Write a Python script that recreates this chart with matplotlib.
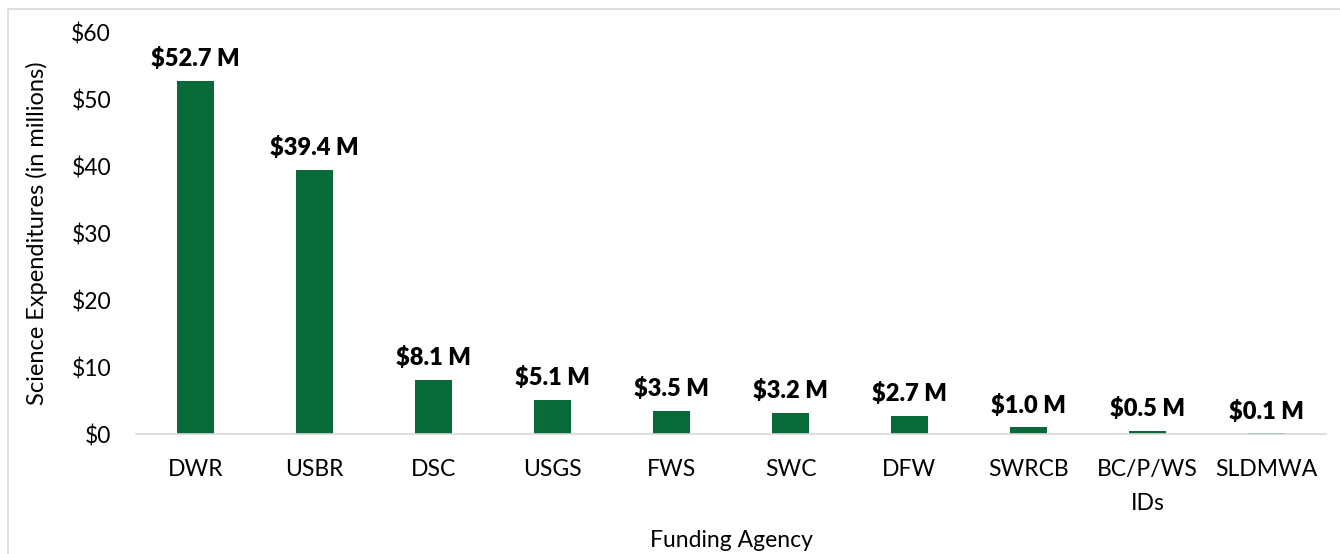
import matplotlib.pyplot as plt
from matplotlib.patches import Rectangle

agencies = ['DWR', 'USBR', 'DSC', 'USGS', 'FWS', 'SWC', 'DFW', 'SWRCB', 'BC/P/WS\nIDs', 'SLDMWA']
spend = [52.7, 39.4, 8.1, 5.1, 3.5, 3.2, 2.7, 1.0, 0.5, 0.1]
yticks = [0, 10, 20, 30, 40, 50, 60]

green = '#076A38'
plt.rcParams['font.family'] = ['Lato', 'DejaVu Sans']

fig = plt.figure(figsize=(13.4, 5.54), dpi=100)
ax = fig.add_axes([0.1015, 0.2166, 0.888, 0.7256])

# light frame round the chart (top and left visible)
fig.patches.append(Rectangle((8/1340, -0.1), 1.2, 1 - 9/554 + 0.1, transform=fig.transFigure,
                             fill=False, ec='#d9d9d9', lw=1.2))

x = range(len(agencies))
ax.bar(x, spend, width=0.31, color=green)
for xi, v in zip(x, spend):
    ax.text(xi, v + 1.6, f'${v:.1f} M', ha='center', va='bottom', fontsize=17, fontweight='heavy')

ax.set_xlim(-0.5, len(agencies) - 0.5)
ax.set_ylim(0, 60)
ax.set_yticks(yticks)
ax.set_yticklabels([f'${t}' for t in yticks], fontsize=16.5)
ax.set_xticks(list(x))
ax.set_xticklabels(agencies, fontsize=16.5, linespacing=1.75)
ax.tick_params(length=0)
ax.tick_params(axis='y', pad=18)
ax.tick_params(axis='x', pad=18)
for s in ['top', 'right', 'left']:
    ax.spines[s].set_visible(False)
ax.spines['bottom'].set_color('#d9d9d9')
ax.spines['bottom'].set_linewidth(1.2)

ax.set_xlabel('Funding Agency', fontsize=16.5)
ax.xaxis.set_label_coords(0.5, -0.24)
ax.set_ylabel('Science Expenditures (in millions)', fontsize=17)
ax.yaxis.set_label_coords(-0.074, 0.5)

fig.savefig('out.png', dpi=100)
plt.close()
